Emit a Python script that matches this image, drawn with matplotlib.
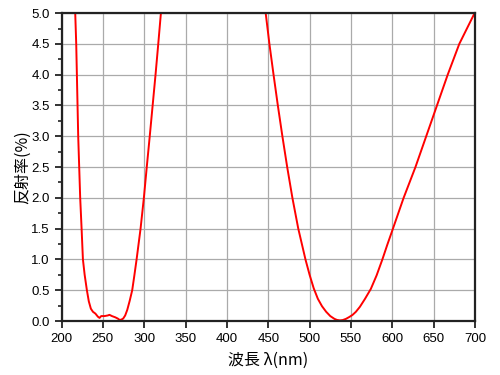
import numpy as np
import matplotlib.pyplot as plt
from matplotlib.ticker import MultipleLocator

# -- Data --------------------------------------------------------------------
# short wavelength dip
wl_uv = [216.6, 217.8, 218.6, 219.4, 220.2, 221.4, 222.6, 224.3, 225.9, 228.0,
         230.7, 233.0, 235.5, 238.0, 241.0, 244.0, 246.0, 248.0, 252.0, 256.0,
         258.0, 261.0, 265.0, 268.0, 270.0, 272.0, 274.6, 277.0, 279.5, 282.5,
         285.5, 288.0, 290.8, 293.2, 295.6, 299.6, 303.1, 306.7, 310.2, 313.7,
         317.0, 320.2]
refl_uv = [5.0, 4.5, 4.0, 3.5, 3.0, 2.5, 2.0, 1.5, 1.0, 0.75,
           0.5, 0.32, 0.2, 0.15, 0.12, 0.07, 0.05, 0.08, 0.08, 0.09,
           0.1, 0.08, 0.06, 0.04, 0.02, 0.02, 0.04, 0.09, 0.18, 0.33,
           0.5, 0.73, 1.0, 1.25, 1.5, 2.0, 2.5, 3.0, 3.5, 4.0,
           4.5, 5.0]

# visible dip
wl_vis = [446.9, 451.4, 456.4, 461.6, 467.1, 472.9, 479.2, 486.3, 495.0, 500.0,
          505.0, 510.0, 515.0, 520.0, 525.0, 530.0, 533.0, 536.6, 540.0, 544.0,
          548.0, 552.0, 556.0, 560.8, 567.0, 574.0, 581.0, 588.0, 594.0, 600.0,
          613.7, 628.0, 641.0, 654.0, 667.0, 681.0, 699.5]
refl_vis = [5.0, 4.5, 4.0, 3.5, 3.0, 2.5, 2.0, 1.5, 1.0, 0.75,
            0.53, 0.36, 0.24, 0.15, 0.08, 0.035, 0.018, 0.01, 0.015, 0.035,
            0.065, 0.1, 0.15, 0.23, 0.36, 0.52, 0.74, 1.0, 1.24, 1.47,
            2.0, 2.5, 3.0, 3.5, 4.0, 4.5, 5.0]

# -- Plot ---------------------------------------------------------------------
plt.rcParams['font.family'] = ['Liberation Sans', 'Noto Sans CJK JP', 'DejaVu Sans']

fig = plt.figure(figsize=(5, 3.75), dpi=100)
ax = fig.add_axes([0.123, 0.144, 0.827, 0.821])

ax.plot(wl_uv, refl_uv, color='#ff0000', lw=1.4)
ax.plot(wl_vis, refl_vis, color='#ff0000', lw=1.4)

ax.set_xlim(200, 700)
ax.set_ylim(0, 5)
ax.xaxis.set_major_locator(MultipleLocator(50))
ax.yaxis.set_major_locator(MultipleLocator(0.5))
ax.yaxis.set_minor_locator(MultipleLocator(0.25))
ax.yaxis.set_major_formatter(plt.FormatStrFormatter('%.1f'))

ax.grid(True, which='major', color='#aaaaaa', lw=0.9)
ax.set_axisbelow(True)
for s in ax.spines.values():
    s.set_linewidth(1.6)
    s.set_color('#222222')

ax.tick_params(which='major', direction='out', length=5, width=1.3, labelsize=9.5,
               color='#222222')
ax.tick_params(which='minor', direction='out', length=3, width=1.2, color='#222222')

ax.set_xlabel('波長 λ(nm)', fontsize=11.5, family=['Noto Sans CJK JP', 'DejaVu Sans'],
              labelpad=5)
ax.set_ylabel('反射率(%)', fontsize=11.5, family=['Noto Sans CJK JP', 'DejaVu Sans'],
              labelpad=0)

fig.savefig('out.png', dpi=100)
